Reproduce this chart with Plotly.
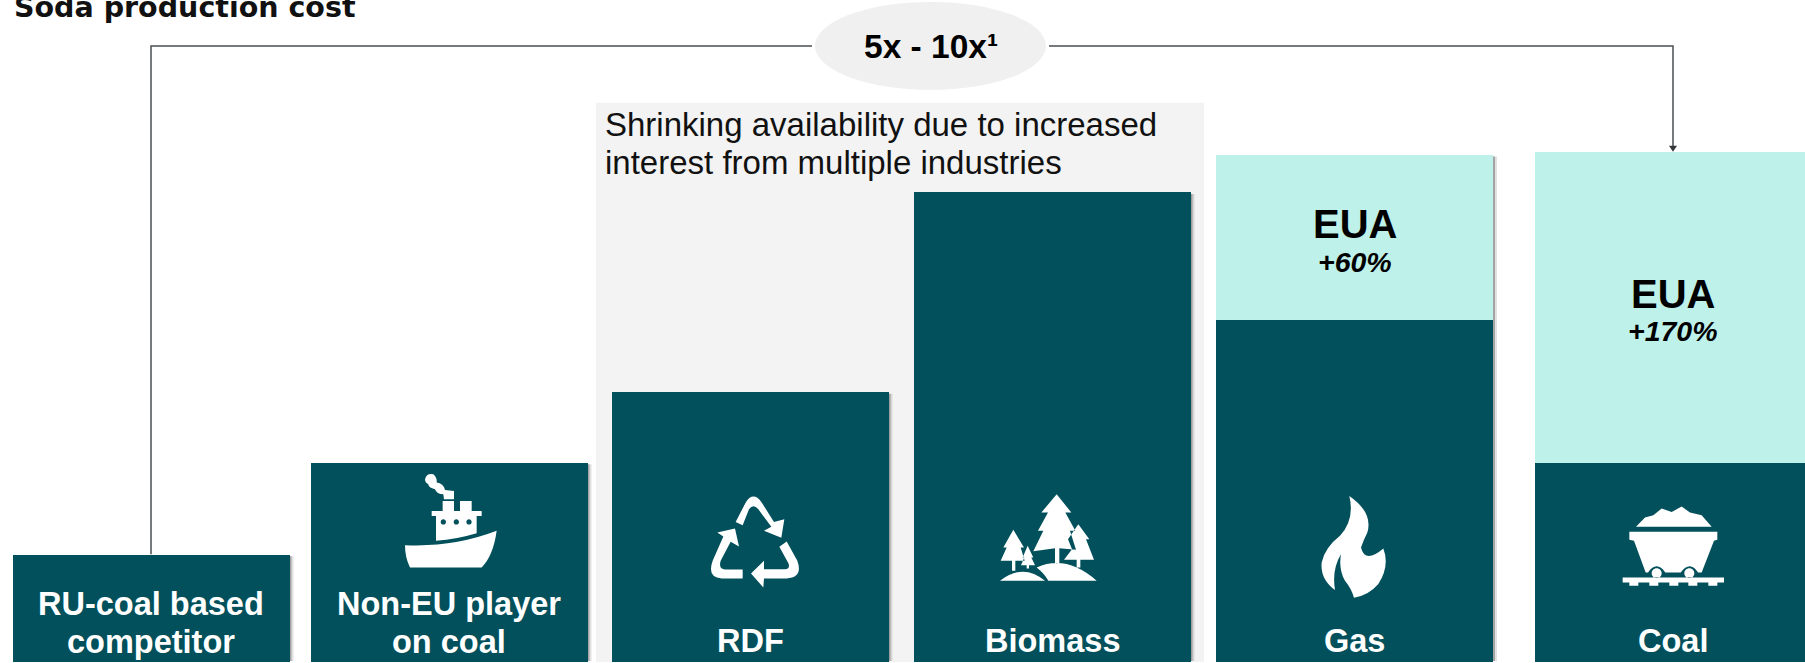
import re
import plotly.graph_objects as go

# Soda production cost by energy route, indexed to the RU-coal competitor = 100
categories = ["RU-coal based competitor", "Non-EU player on coal", "RDF", "Biomass", "Gas", "Coal"]
fuel_cost = [100, 186, 252, 439, 320, 186]
eua_cost = [0, 0, 0, 0, 154, 291]
eua_uplift = [None, None, None, None, "+60%", "+170%"]
bar_labels = [["RU-coal based", "competitor"], ["Non-EU player", "on coal"], ["RDF"], ["Biomass"], ["Gas"], ["Coal"]]
multiple_label = "5x - 10x¹"
band_note = ["Shrinking availability due to increased", "interest from multiple industries"]
title_text = "Soda production cost"

W, H = 1805, 663
TEAL = "#02505B"
MINT = "#BEF1EA"
LINE = "#4A4F53"
centres = [151, 449, 750, 1052, 1354.5, 1673]
BAR_W = 277
PX_PER_UNIT = 1.07
BASE_PX = 662


def px_x(x):
    return x / W


def px_y(y):
    return 1 - y / H


def icon(path, ox, oy, scale=1 / 3):
    """Turn a path drawn on a 3x local grid into a white paper-anchored shape."""
    def convert(m):
        x = float(m.group(1)) * scale + ox
        y = float(m.group(2)) * scale + oy
        return f"{px_x(x):.5f},{px_y(y):.5f}"

    return dict(
        type="path", xref="paper", yref="paper", layer="above",
        path=re.sub(r"(-?[\d.]+),(-?[\d.]+)", convert, path),
        fillcolor="white", line=dict(width=0),
    )


def disc(cx, cy, r):
    k = r * 0.5523
    return (
        f"M{cx - r},{cy} C{cx - r},{cy - k} {cx - k},{cy - r} {cx},{cy - r} "
        f"C{cx + k},{cy - r} {cx + r},{cy - k} {cx + r},{cy} "
        f"C{cx + r},{cy + k} {cx + k},{cy + r} {cx},{cy + r} "
        f"C{cx - k},{cy + r} {cx - r},{cy + k} {cx - r},{cy} Z "
    )


ship = (
    "M75,258 Q220,265 350,215 Q340,290 305,325 L90,325 Q75,295 75,258 Z "
    "M168,170 L155,170 L155,155 L188,155 L188,125 L222,125 L222,155 L240,155 L240,125 L275,125 "
    "L275,155 L305,155 L305,170 L290,170 L290,222 Q230,240 168,245 Z "
    + disc(190, 188, 8) + disc(229, 188, 8) + disc(267, 188, 8) +
    "M135,60 Q140,40 160,45 Q172,55 170,70 Q190,72 195,92 L222,95 L222,120 L192,120 L190,105 "
    "Q170,105 165,90 Q145,85 145,75 Q135,70 135,60 Z"
)
recycle = (
    "M137,128 L168,68 Q190,35 214,68 L252,128 L283,120 L274,176 L222,155 L244,143 L205,90 "
    "Q190,72 177,90 L158,138 Z "
    "M82,160 L135,148 L147,202 L122,188 L92,245 Q85,270 105,271 L158,271 L158,298 L95,298 "
    "Q50,295 68,245 L100,172 Z "
    "M290,187 L322,245 Q340,295 290,298 L222,298 L220,325 L183,283 L222,245 L222,270 L285,270 "
    "Q303,268 294,250 L268,203 Z"
)
forest = (
    "M1100,45 L1144,100 L1126,100 L1156,155 L1140,155 L1158,212 L1108,207 L1108,252 L1095,252 "
    "L1095,207 L1030,216 L1060,155 L1044,155 L1074,100 L1054,100 Z "
    "M1165,135 L1198,180 L1188,180 L1212,242 L1171,242 L1171,265 L1160,265 L1160,242 L1122,242 "
    "L1146,210 L1134,180 Z "
    "M970,152 L1002,205 L992,205 L1004,245 L976,245 L976,275 L966,275 L966,245 L932,245 "
    "L950,205 L940,205 Z "
    "M1013,200 L1030,235 L1024,235 L1035,258 L1017,258 L1017,268 L1010,268 L1010,258 L993,258 "
    "L1003,235 L998,235 Z "
    "M930,305 Q1000,250 1065,305 Z "
    "M1040,265 Q1130,225 1220,305 L1075,305 Q1065,285 1040,265 Z"
)
flame = (
    "M178,50 Q250,100 232,160 Q222,180 213,205 Q225,255 280,208 Q300,260 265,315 Q235,350 192,356 "
    "Q185,330 165,305 Q145,270 153,225 Q125,270 135,333 Q90,300 95,250 Q105,205 150,170 "
    "Q195,120 178,50 Z"
)
mine_cart = (
    "M78,113 L105,85 L130,78 L155,58 L185,68 L215,52 L240,70 L275,78 L305,113 Z "
    "M58,128 L322,128 L322,152 L312,155 L275,250 L264,250 Q240,212 212,250 L166,250 "
    "Q140,212 114,250 L107,250 L72,155 L58,152 Z "
    + disc(140, 252, 15) + disc(238, 252, 15) +
    "M38,265 L342,265 L342,280 L322,280 L322,290 L295,290 L295,280 L262,280 L262,290 L235,290 "
    "L235,280 L205,280 L205,290 L178,290 L178,280 L145,280 L145,290 L118,290 L118,280 L85,280 "
    "L85,290 L58,290 L58,280 L38,280 Z"
)

fig = go.Figure()
fig.add_bar(x=centres, y=fuel_cost, width=BAR_W, marker=dict(color=TEAL, line=dict(width=0)),
            name="Fuel", hovertext=categories)
fig.add_bar(x=centres, y=eua_cost, width=BAR_W, marker=dict(color=MINT, line=dict(width=0)),
            name="EUA", hovertext=categories)

totals = [a + b for a, b in zip(fuel_cost, eua_cost)]

shapes = [
    # Grey panel behind the two availability-constrained routes
    dict(type="rect", xref="paper", yref="paper", layer="below",
         x0=px_x(596), x1=px_x(1204), y0=0, y1=px_y(103),
         fillcolor="#F3F3F3", line=dict(width=0)),
    # Bracket from the cheapest to the most expensive route, broken by the ellipse
    dict(type="path", xref="paper", yref="paper", layer="above",
         path=f"M{px_x(centres[0]):.5f},{px_y(BASE_PX - totals[0] * PX_PER_UNIT):.5f} "
              f"L{px_x(centres[0]):.5f},{px_y(46):.5f} L{px_x(812):.5f},{px_y(46):.5f}",
         line=dict(color=LINE, width=1.5)),
    dict(type="path", xref="paper", yref="paper", layer="above",
         path=f"M{px_x(1049):.5f},{px_y(46):.5f} L{px_x(centres[5]):.5f},{px_y(46):.5f} "
              f"L{px_x(centres[5]):.5f},{px_y(147):.5f}",
         line=dict(color=LINE, width=1.5)),
    dict(type="path", xref="paper", yref="paper", layer="above",
         path=f"M{px_x(centres[5] - 4):.5f},{px_y(146):.5f} L{px_x(centres[5] + 4):.5f},{px_y(146):.5f} "
              f"L{px_x(centres[5]):.5f},{px_y(152):.5f} Z",
         fillcolor="#33383C", line=dict(width=0)),
    dict(type="circle", xref="paper", yref="paper", layer="above",
         x0=px_x(815), x1=px_x(1046), y0=px_y(90), y1=px_y(2),
         fillcolor="#F0F0F0", line=dict(width=0)),
    icon(ship, 380, 460),
    icon(recycle, 690, 480),
    icon(forest, 690, 480),
    icon(flame, 1290, 480),
    icon(mine_cart, 1610, 490),
]
# Soft drop shadow on the right edge of each column
for c, total in zip(centres, totals):
    right = c + BAR_W / 2
    top = BASE_PX - total * PX_PER_UNIT
    for offset, alpha in ((2, 0.45), (4, 0.18)):
        shapes.append(dict(type="rect", xref="paper", yref="paper", layer="below",
                           x0=px_x(right), x1=px_x(right + offset), y0=px_y(BASE_PX), y1=px_y(top + 2),
                           fillcolor=f"rgba(90,90,90,{alpha})", line=dict(width=0)))


def note(text, x, y, size, color="black", bold=False, italic=False, anchor="center"):
    if bold:
        text = f"<b>{text}</b>"
    if italic:
        text = f"<i>{text}</i>"
    return dict(text=text, x=px_x(x), y=px_y(y), xref="paper", yref="paper",
                xanchor=anchor, yanchor="middle", showarrow=False,
                font=dict(family="Liberation Sans", size=size, color=color))


annotations = []
for c, lines in zip(centres, bar_labels):
    first_y = 605 if len(lines) == 2 else 642
    for i, line in enumerate(lines):
        annotations.append(note(line, c, first_y + 38 * i, 32.5, "white", bold=True))
for c, uplift, eua_y in zip(centres[4:], eua_uplift[4:], (224, 294)):
    annotations.append(note("EUA", c, eua_y, 40, "black", bold=True))
    annotations.append(note(uplift, c, eua_y + 38, 28.5, "black", bold=True, italic=True))
annotations.append(note(multiple_label, 931, 47, 33.5, "black", bold=True))
for i, line in enumerate(band_note):
    annotations.append(note(line, 603, 125 + 38 * i, 33, "#111111", anchor="left"))
annotations.append(dict(text=f"<b>{title_text}</b>", x=px_x(12), y=px_y(8), xref="paper", yref="paper",
                        xanchor="left", yanchor="middle", showarrow=False,
                        font=dict(family="DejaVu Sans", size=28.5, color="#111111")))

fig.update_layout(
    width=W, height=H, barmode="stack", showlegend=False,
    margin=dict(l=0, r=0, t=0, b=H - BASE_PX, pad=0),
    paper_bgcolor="white", plot_bgcolor="rgba(0,0,0,0)",
    xaxis=dict(range=[0, W], visible=False, fixedrange=True),
    yaxis=dict(range=[0, BASE_PX / PX_PER_UNIT], visible=False, fixedrange=True),
    shapes=shapes, annotations=annotations,
)
fig.write_html("out.html", config=dict(displayModeBar=False))
